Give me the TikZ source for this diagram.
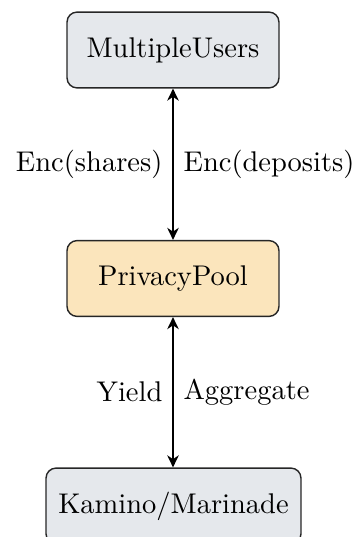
\documentclass[tikz,border=0pt]{standalone}
\usetikzlibrary{arrows.meta}
\definecolor{boxgray}{RGB}{229,232,236}
\definecolor{boxorange}{RGB}{251,229,188}
\begin{document}
\begin{tikzpicture}[x=0.351pt,y=-0.351pt,
  box/.style={draw=black!85, line width=0.5pt, rounded corners=3.5pt, fill=boxgray,
    minimum width=74.4pt, minimum height=26.6pt, inner sep=4.3pt},
  tip/.tip={Stealth[length=4.2pt,width=4pt,inset=1.3pt]},
  link/.style={tip-tip, line width=0.85pt},
  lbl/.style={inner sep=3.3pt}]
\useasboundingbox (0,0) rectangle (358,537);
\node[box] (users) at (173,50) {MultipleUsers};
\node[box, fill=boxorange] (pool) at (173,278.5) {PrivacyPool};
\node[box] (kamino) at (173.5,506) {Kamino/Marinade};
\draw[link] (users) -- (pool)
  node[midway, left, lbl] {Enc(shares)}
  node[midway, right, lbl] {Enc(deposits)};
\draw[link] (pool) -- (kamino.north -| pool.south)
  node[midway, left, lbl] {Yield}
  node[midway, right, lbl] {Aggregate};
\end{tikzpicture}
\end{document}
